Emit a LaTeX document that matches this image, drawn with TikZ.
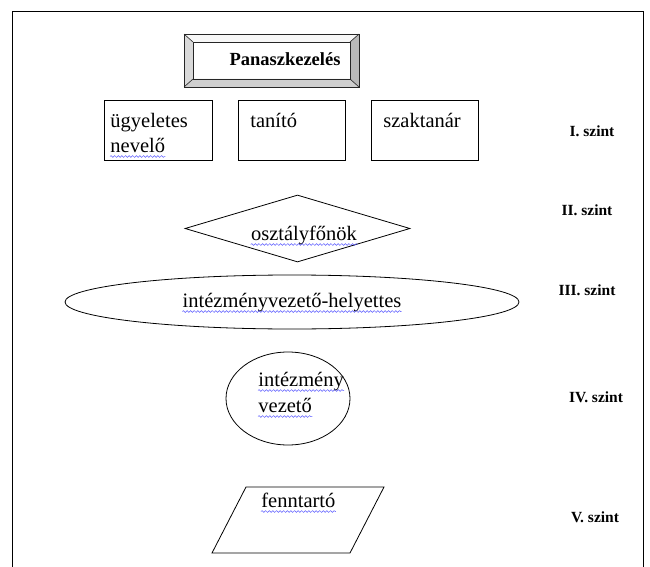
\documentclass[tikz,border=0pt]{standalone}
\usepackage{fontspec}
\setmainfont{Liberation Serif}
\usetikzlibrary{shapes.geometric,decorations.pathmorphing,calc}
\begin{document}
\begin{tikzpicture}[x=1pt,y=-1pt,line width=0.8pt,
  txt/.style={inner sep=0pt,font=\fontsize{20.5}{24}\selectfont},
  ttl/.style={inner sep=0pt,font=\fontsize{18.5}{21}\selectfont\bfseries},
  lvl/.style={inner sep=0pt,font=\fontsize{15.5}{18}\selectfont\bfseries},
  squig/.style={draw=blue!65!white,line width=0.5pt,decorate,
    decoration={snake,amplitude=0.9pt,segment length=3.6pt}},
  shp/.style={draw,inner sep=0pt}]
\useasboundingbox (0,0) rectangle (650,567);
% outer frame
\draw[line width=1pt] (12,567) -- (12,12) -- (643,12) -- (643,567);
% bevel title box
\coordinate (o1) at (184,34); \coordinate (o2) at (359,34);
\coordinate (o3) at (359,87); \coordinate (o4) at (184,87);
\coordinate (i1) at (193,42); \coordinate (i2) at (350,42);
\coordinate (i3) at (350,79); \coordinate (i4) at (193,79);
\fill[gray!6] (o1) -- (o2) -- (i2) -- (i1) -- cycle;
\fill[gray!30] (o1) -- (i1) -- (i4) -- (o4) -- cycle;
\fill[gray!38] (o4) -- (i4) -- (i3) -- (o3) -- cycle;
\fill[gray!55] (o2) -- (o3) -- (i3) -- (i2) -- cycle;
\draw[gray!30!black] (o1) rectangle (o3);
\draw[gray!30!black,line width=0.6pt] (i1) rectangle (i3);
\draw[gray!30!black,line width=0.6pt] (o1) -- (i1) (o2) -- (i2) (o3) -- (i3) (o4) -- (i4);
\node[ttl,anchor=base] (title) at (285,66) {Panaszkezelés};
% level I boxes
\node[shp,minimum width=108,minimum height=60] (b1) at (158,130) {};
\node[shp,minimum width=107,minimum height=60] (b2) at (291.5,130) {};
\node[shp,minimum width=107,minimum height=60] (b3) at (424.5,130) {};
\node[txt,anchor=base west] (t1a) at (110,128) {ügyeletes};
\node[txt,anchor=base west] (t1b) at (110,152) {nevelő};
\node[txt,anchor=base west] (t2) at (250,128) {tanító};
\node[txt,anchor=base west] (t3) at (383,128) {szaktanár};
% level II diamond
\node[shp,diamond,minimum width=225,minimum height=67] (dia) at (297.5,228.5) {};
\node[txt,anchor=base] (t4) at (304,240) {osztályfőnök};
% level III ellipse
\node[shp,ellipse,minimum width=454,minimum height=54] (ell) at (292,302) {};
\node[txt,anchor=base] (t5) at (292,307) {intézményvezető-helyettes};
% level IV ellipse
\node[shp,ellipse,minimum width=124,minimum height=93] (ell2) at (288,398.5) {};
\node[txt,anchor=base west] (t6a) at (258,386) {intézmény};
\node[txt,anchor=base west] (t6b) at (258,412) {vezető};
% level V parallelogram
\coordinate (p1) at (246,487); \coordinate (p2) at (384,487);
\coordinate (p3) at (350,553); \coordinate (p4) at (212,553);
\draw (p1) -- (p2) -- (p3) -- (p4) -- cycle;
\node[txt,anchor=base west] (t7) at (261,507) {fenntartó};
% spell-check squiggles
\foreach \n in {t1b,t4,t5,t6a,t6b,t7}
  \draw[squig] ($(\n.base west)+(0,4.5)$) -- ($(\n.base east)+(0,4.5)$);
% level labels
\node[lvl] (l1) at (592,131) {I. szint};
\node[lvl] (l2) at (587,210) {II. szint};
\node[lvl] (l3) at (587,290) {III. szint};
\node[lvl] (l4) at (596,397) {IV. szint};
\node[lvl] (l5) at (595,517) {V. szint};
\end{tikzpicture}
\end{document}
